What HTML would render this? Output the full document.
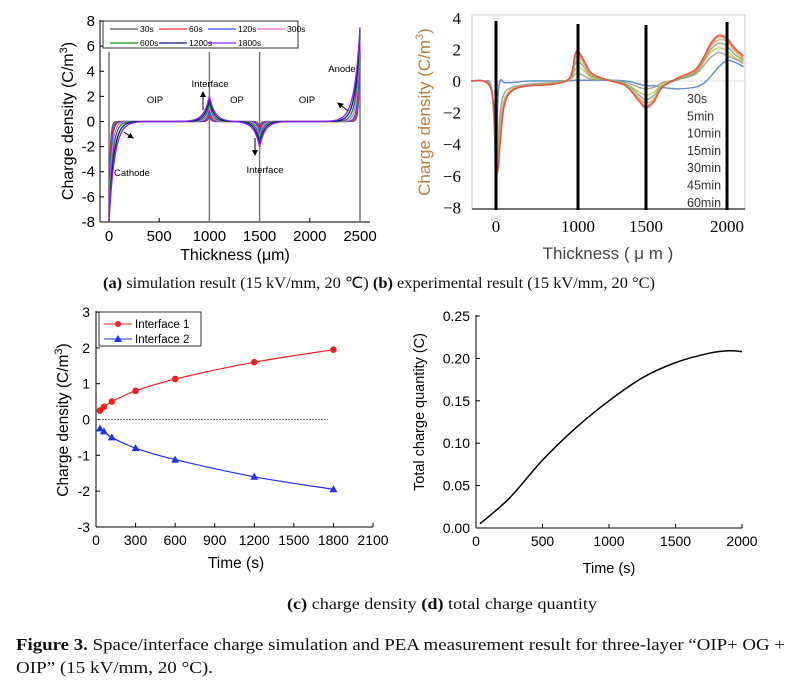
<!DOCTYPE html>
<html><head><meta charset="utf-8"><style>
html,body{margin:0;padding:0;background:#fff;}
svg{display:block;}
.s{font-family:"Liberation Sans",sans-serif;}
.t{font-family:"Liberation Serif",serif;}
</style></head><body>
<svg id="fig" width="805" height="692" viewBox="0 0 805 692" xmlns="http://www.w3.org/2000/svg">
<rect width="805" height="692" fill="#fff"/>
<g id="pa"></g>
<g id="pb"></g>
<g id="pc"></g>
<g id="pd"></g>
<text x="103" y="288" class="t" font-size="16" fill="#111" textLength="552" lengthAdjust="spacingAndGlyphs"><tspan font-weight="bold">(a)</tspan> simulation result (15 kV/mm, 20 ℃) <tspan font-weight="bold">(b)</tspan> experimental result (15 kV/mm, 20 °C)</text>
<text x="287" y="609" class="t" font-size="16" fill="#111" textLength="310" lengthAdjust="spacingAndGlyphs"><tspan font-weight="bold">(c)</tspan> charge density <tspan font-weight="bold">(d)</tspan> total charge quantity</text>
<text x="16" y="650" class="t" font-size="17" fill="#111" textLength="769" lengthAdjust="spacingAndGlyphs"><tspan font-weight="bold">Figure 3.</tspan> Space/interface charge simulation and PEA measurement result for three-layer “OIP+ OG +</text>
<text x="16" y="673" class="t" font-size="17" fill="#111" textLength="197" lengthAdjust="spacingAndGlyphs">OIP” (15 kV/mm, 20 °C).</text>
</svg>
<script>
// ---------- Panel A data ----------
const aSeriesNames = ['30s','60s','120s','300s','600s','1200s','1800s'];
const aCathode = [-7.0,-7.2,-7.4,-7.6,-7.8,-8.0,-8.0];
const aInterface1 = [0.6,0.8,1.0,1.3,1.5,1.8,2.0];
const aInterface2 = [-0.6,-0.8,-1.0,-1.3,-1.5,-1.8,-2.0];
const aAnode = [5.7,6.0,6.3,6.7,7.0,7.3,7.5];
const aDecayUm = [12,16,20,28,36,46,56];
const aXTicks = [0,500,1000,1500,2000,2500];
const aYTicks = [-8,-6,-4,-2,0,2,4,6,8];
// ---------- Panel B data ----------
const bSeriesNames = ['30s','5min','10min','15min','30min','45min','60min'];
const bX = [-300,-150,-60,-20,0,20,50,100,200,400,700,900,960,1000,1050,1100,1200,1350,1450,1500,1550,1600,1700,1800,1850,1900,1950,2000,2050,2110];
const bS1 = [0,0,-0.3,-3,-7.2,-1.5,0,-0.1,-0.1,0,0,0.02,0.05,0.05,0.05,0.05,0.05,0,-0.2,-0.3,-0.3,-0.4,-0.5,-0.4,-0.2,0.3,0.9,1.3,1.2,0.9];
const bS2 = [0,0,-0.4,-2.5,-6,-4.5,-2,-0.8,-0.4,-0.2,-0.1,0.1,0.4,0.5,0.3,0.1,0.1,-0.1,-0.4,-0.5,-0.4,-0.1,0.1,0.4,0.9,1.5,1.8,1.6,1.4,1.1];
const bS3 = [0,0,-0.4,-2.3,-5.5,-5,-2.8,-1.2,-0.5,-0.3,-0.1,0.1,0.7,0.9,0.6,0.2,0.1,-0.2,-0.7,-0.9,-0.7,-0.2,0.1,0.5,1.1,1.8,2.1,1.9,1.5,1.2];
const bS4 = [0,0,-0.5,-2.2,-5,-5.2,-3.2,-1.3,-0.6,-0.3,-0.15,0.15,1.0,1.3,0.8,0.3,0.1,-0.2,-0.9,-1.2,-0.9,-0.3,0.1,0.5,1.2,2.0,2.4,2.2,1.7,1.3];
const bS5 = [0,0,-0.5,-2.1,-4.6,-5.4,-3.5,-1.4,-0.6,-0.3,-0.2,0.2,1.3,1.6,1.0,0.4,0.1,-0.3,-1.1,-1.4,-1.1,-0.4,0.2,0.6,1.3,2.2,2.6,2.5,1.9,1.4];
const bS6 = [0,0,-0.5,-2,-4.3,-5.6,-3.8,-1.5,-0.6,-0.3,-0.2,0.2,1.5,1.8,1.1,0.4,0.1,-0.3,-1.2,-1.6,-1.2,-0.4,0.2,0.6,1.3,2.3,2.8,2.6,2.0,1.5];
const bS7 = [0,0,-0.5,-2,-4.2,-5.8,-4.0,-1.6,-0.6,-0.3,-0.2,0.2,1.6,1.9,1.2,0.5,0.1,-0.3,-1.3,-1.7,-1.3,-0.4,0.2,0.7,1.4,2.4,2.9,2.7,2.1,1.6];
const bXTicks = [0,1000,1500,2000];
const bYTicks = [-8,-6,-4,-2,0,2,4];
// ---------- Panel C data ----------
const cTime = [30,60,120,300,600,1200,1800];
const cInterface1 = [0.25,0.35,0.5,0.8,1.13,1.6,1.95];
const cInterface2 = [-0.25,-0.33,-0.5,-0.8,-1.12,-1.6,-1.95];
const cXTicks = [0,300,600,900,1200,1500,1800,2100];
const cYTicks = [-3,-2,-1,0,1,2,3];
// ---------- Panel D data ----------
const dTime = [30,250,500,750,1000,1250,1500,1750,1900,2000];
const dCharge = [0.005,0.035,0.08,0.118,0.15,0.177,0.195,0.206,0.209,0.208];
const dXTicks = [0,500,1000,1500,2000];
const dYTicks = [0,0.05,0.10,0.15,0.20,0.25];

const NS='http://www.w3.org/2000/svg';
function mk(parent,tag,attrs,text){const e=document.createElementNS(NS,tag);for(const k in attrs)e.setAttribute(k,attrs[k]);if(text!==undefined)e.textContent=text;parent.appendChild(e);return e;}
function path(pts){return pts.map((p,i)=>(i?'L':'M')+p[0].toFixed(2)+','+p[1].toFixed(2)).join('');}
function spline(pts){let d='M'+pts[0][0]+','+pts[0][1];for(let i=0;i<pts.length-1;i++){const p0=pts[i-1]||pts[i],p1=pts[i],p2=pts[i+1],p3=pts[i+2]||p2;const c1=[p1[0]+(p2[0]-p0[0])/6,p1[1]+(p2[1]-p0[1])/6],c2=[p2[0]-(p3[0]-p1[0])/6,p2[1]-(p3[1]-p1[1])/6];d+='C'+c1[0].toFixed(2)+','+c1[1].toFixed(2)+' '+c2[0].toFixed(2)+','+c2[1].toFixed(2)+' '+p2[0].toFixed(2)+','+p2[1].toFixed(2);}return d;}

// ===== Panel A =====
(function(){
const g=document.getElementById('pa');
const xA=v=>109+v*0.1004, yA=v=>121.5-v*12.56;
const cols=['#555','#f03030','#3050f0','#f060f0','#109010','#101090','#9020f0'];
mk(g,'line',{x1:100,y1:20,x2:100,y2:222,stroke:'#000','stroke-width':1});
mk(g,'line',{x1:100,y1:222,x2:370,y2:222,stroke:'#000','stroke-width':1});
aYTicks.forEach(v=>{const t=mk(g,'text',{x:95,y:yA(v)+5,'text-anchor':'end','font-size':15,class:'s'},String(v));mk(g,'line',{x1:100,y1:yA(v),x2:104,y2:yA(v),stroke:'#000'});});
aXTicks.forEach(v=>{const t=mk(g,'text',{x:xA(v),y:241,'text-anchor':'middle','font-size':15,class:'s'},String(v));mk(g,'line',{x1:xA(v),y1:222,x2:xA(v),y2:218,stroke:'#000'});});
[0,1000,1500,2500].forEach(v=>mk(g,'line',{x1:xA(v),y1:52,x2:xA(v),y2:222,stroke:'#777','stroke-width':1.5}));
for(let i=0;i<aSeriesNames.length;i++){
 const pts=[];const L=aDecayUm[i];
 for(let x=0;x<=2500;x+=2){
  let v=aCathode[i]*Math.exp(-x/L)+aInterface1[i]*Math.exp(-Math.abs(x-1000)/L)+aInterface2[i]*Math.exp(-Math.abs(x-1500)/L)+aAnode[i]*Math.exp(-(2500-x)/L);
  pts.push([xA(x),yA(v)]);
 }
 const p=mk(g,'path',{d:path(pts),fill:'none',stroke:cols[i],'stroke-width':1.3});
 
 
}
const lg=mk(g,'g',{});


mk(lg,'rect',{x:103,y:21,width:195,height:27,fill:'#fff',stroke:'#000','stroke-width':0.8});
aSeriesNames.forEach((n,i)=>{const col=i<4?i:i-4,row=i<4?0:1;const x0=110+col*49,y0=29+row*14;mk(lg,'line',{x1:x0,y1:y0,x2:x0+28,y2:y0,stroke:cols[i],'stroke-width':1.3});const t=mk(lg,'text',{x:x0+30,y:y0+3,'font-size':8.5,class:'s'},n);});
const tl=mk(g,'text',{x:0,y:0,'text-anchor':'middle','font-size':16,class:'s',transform:'translate(73,121) rotate(-90)'});

tl.innerHTML='Charge density (C/m<tspan dy="-6" font-size="11">3</tspan><tspan dy="6">)</tspan>';
const xt=mk(g,'text',{x:235,y:260,'text-anchor':'middle','font-size':16,class:'s'},'Thickness (μm)');
[['OIP',155,103],['Interface',210,87],['OP',237,103],['OIP',307,103],['Anode',342,72],['Cathode',132,176],['Interface',265,173]].forEach(a=>{const t=mk(g,'text',{x:a[1],y:a[2],'text-anchor':'middle','font-size':9.5,class:'s'},a[0]);});
mk(g,'defs',{}).innerHTML='<marker id="ah" markerWidth="6" markerHeight="6" refX="5" refY="3" orient="auto"><path d="M0,0L6,3L0,6z" fill="#000"/></marker>';
[[203,110,203,92],[255,138,255,155],[124,132,133,138],[348,111,338,103]].forEach(a=>mk(g,'line',{x1:a[0],y1:a[1],x2:a[2],y2:a[3],stroke:'#000','stroke-width':1,'marker-end':'url(#ah)'}));
})();

// ===== Panel B =====
(function(){
const g=document.getElementById('pb');
const dom=[-300,0,1000,1500,2000,2120],rng=[471,496,578,646,727,745];
const xB=v=>{for(let i=0;i<dom.length-1;i++){if(v<=dom[i+1]||i===dom.length-2)return rng[i]+(v-dom[i])*(rng[i+1]-rng[i])/(dom[i+1]-dom[i]);}};
const yB=v=>81-v*15.8;
const cols=['#4a80c0','#999','#c8c040','#70b070','#f0a070','#f08a3c','#e04848'];
mk(g,'rect',{x:472,y:15,width:273,height:194,fill:'none',stroke:'#ccc','stroke-width':1});
mk(g,'line',{x1:472,y1:209,x2:745,y2:209,stroke:'#222','stroke-width':1.2});
mk(g,'line',{x1:472,y1:yB(0),x2:745,y2:yB(0),stroke:'#ddd','stroke-width':1});
bYTicks.forEach(v=>{const t=mk(g,'text',{x:461,y:yB(v)+6,'text-anchor':'end','font-size':17,class:'t'},v<0?'\u2212'+(-v):String(v));});
bXTicks.forEach(v=>{const t=mk(g,'text',{x:xB(v),y:232,'text-anchor':'middle','font-size':17,class:'t'},String(v));});
const series=[bS1,bS2,bS3,bS4,bS5,bS6,bS7];
series.forEach((s,i)=>{const p=mk(g,'path',{d:spline(bX.map((x,j)=>[xB(x),yB(s[j])])),fill:'none',stroke:cols[i],'stroke-width':1.5,opacity:0.85});

});
[[0,21],[1000,24],[1500,25],[2000,22]].forEach(a=>mk(g,'line',{x1:xB(a[0]),y1:a[1],x2:xB(a[0]),y2:210,stroke:'#000','stroke-width':3}));
bSeriesNames.forEach((n,i)=>{const t=mk(g,'text',{x:687,y:103+i*17.3,'font-size':12.5,fill:'#333',class:'s'},n);});
const tl=mk(g,'text',{x:0,y:0,'text-anchor':'middle','font-size':17,class:'s',fill:'#c07a3a',transform:'translate(430,112) rotate(-90)'});

tl.innerHTML='Charge density (C/m<tspan dy="-7" font-size="11">3</tspan><tspan dy="7">)</tspan>';
const xt=mk(g,'text',{x:608,y:259,'text-anchor':'middle','font-size':17,class:'s',fill:'#444'},'Thickness ( μ m )');
})();

// ===== Panel C =====
(function(){
const g=document.getElementById('pc');
const xC=t=>96+t*0.1319, yC=v=>419.5-v*35.8;
mk(g,'line',{x1:96,y1:311,x2:96,y2:527,stroke:'#000'});
mk(g,'line',{x1:96,y1:527,x2:373,y2:527,stroke:'#000'});
cYTicks.forEach(v=>{const t=mk(g,'text',{x:90,y:yC(v)+5,'text-anchor':'end','font-size':14,class:'s'},String(v));mk(g,'line',{x1:96,y1:yC(v),x2:100,y2:yC(v),stroke:'#000'});});
cXTicks.forEach(v=>{const t=mk(g,'text',{x:xC(v),y:545,'text-anchor':'middle','font-size':14,class:'s'},String(v));mk(g,'line',{x1:xC(v),y1:527,x2:xC(v),y2:523,stroke:'#000'});});
mk(g,'line',{x1:xC(0),y1:yC(0),x2:xC(1760),y2:yC(0),stroke:'#777','stroke-dasharray':'2,1'});
const p1=mk(g,'path',{d:spline(cTime.map((t,i)=>[xC(t),yC(cInterface1[i])])),fill:'none',stroke:'#f02020','stroke-width':1.2});

const p2=mk(g,'path',{d:spline(cTime.map((t,i)=>[xC(t),yC(cInterface2[i])])),fill:'none',stroke:'#2030f0','stroke-width':1.2});

cTime.forEach((t,i)=>{const c=mk(g,'circle',{cx:xC(t),cy:yC(cInterface1[i]),r:3.3,fill:'#f02020'});
const x=xC(t),y=yC(cInterface2[i]);const tr=mk(g,'path',{d:`M${x},${y-4}L${x+4},${y+3}L${x-4},${y+3}Z`,fill:'#2030f0'});});
const lg=mk(g,'g',{});
mk(lg,'rect',{x:99,y:312,width:102,height:34,fill:'#fff',stroke:'#000','stroke-width':0.8});
mk(lg,'line',{x1:104,y1:324,x2:132,y2:324,stroke:'#f02020'});mk(lg,'circle',{cx:118,cy:324,r:3,fill:'#f02020'});
mk(lg,'text',{x:135,y:328,'font-size':11.5,class:'s'},'Interface 1');
mk(lg,'line',{x1:104,y1:339,x2:132,y2:339,stroke:'#2030f0'});mk(lg,'path',{d:'M118,335L122,342L114,342Z',fill:'#2030f0'});
mk(lg,'text',{x:135,y:343,'font-size':11.5,class:'s'},'Interface 2');
const tl=mk(g,'text',{x:0,y:0,'text-anchor':'middle','font-size':15.5,class:'s',transform:'translate(68,420) rotate(-90)'});

tl.innerHTML='Charge density (C/m<tspan dy="-6" font-size="11">3</tspan><tspan dy="6">)</tspan>';
const xt=mk(g,'text',{x:236,y:568,'text-anchor':'middle','font-size':15.5,class:'s'},'Time (s)');
})();

// ===== Panel D =====
(function(){
const g=document.getElementById('pd');
const xD=t=>476+t*0.133, yD=v=>528-v*848;
mk(g,'line',{x1:476,y1:315,x2:476,y2:528,stroke:'#000'});
mk(g,'line',{x1:476,y1:528,x2:742,y2:528,stroke:'#000'});
dYTicks.forEach(v=>{const t=mk(g,'text',{x:470,y:yD(v)+5,'text-anchor':'end','font-size':14,class:'s'},v.toFixed(2));mk(g,'line',{x1:476,y1:yD(v),x2:480,y2:yD(v),stroke:'#000'});});
dXTicks.forEach(v=>{const t=mk(g,'text',{x:xD(v),y:546,'text-anchor':'middle','font-size':14,class:'s'},String(v));mk(g,'line',{x1:xD(v),y1:528,x2:xD(v),y2:524,stroke:'#000'});});
const p=mk(g,'path',{d:spline(dTime.map((t,i)=>[xD(t),yD(dCharge[i])])),fill:'none',stroke:'#000','stroke-width':1.5});

const tl=mk(g,'text',{x:0,y:0,'text-anchor':'middle','font-size':14.5,class:'s',transform:'translate(424,412) rotate(-90)'},'Total charge quantity (C)');

const xt=mk(g,'text',{x:609,y:573,'text-anchor':'middle','font-size':14.5,class:'s'},'Time (s)');
})();
</script>
</body></html>
